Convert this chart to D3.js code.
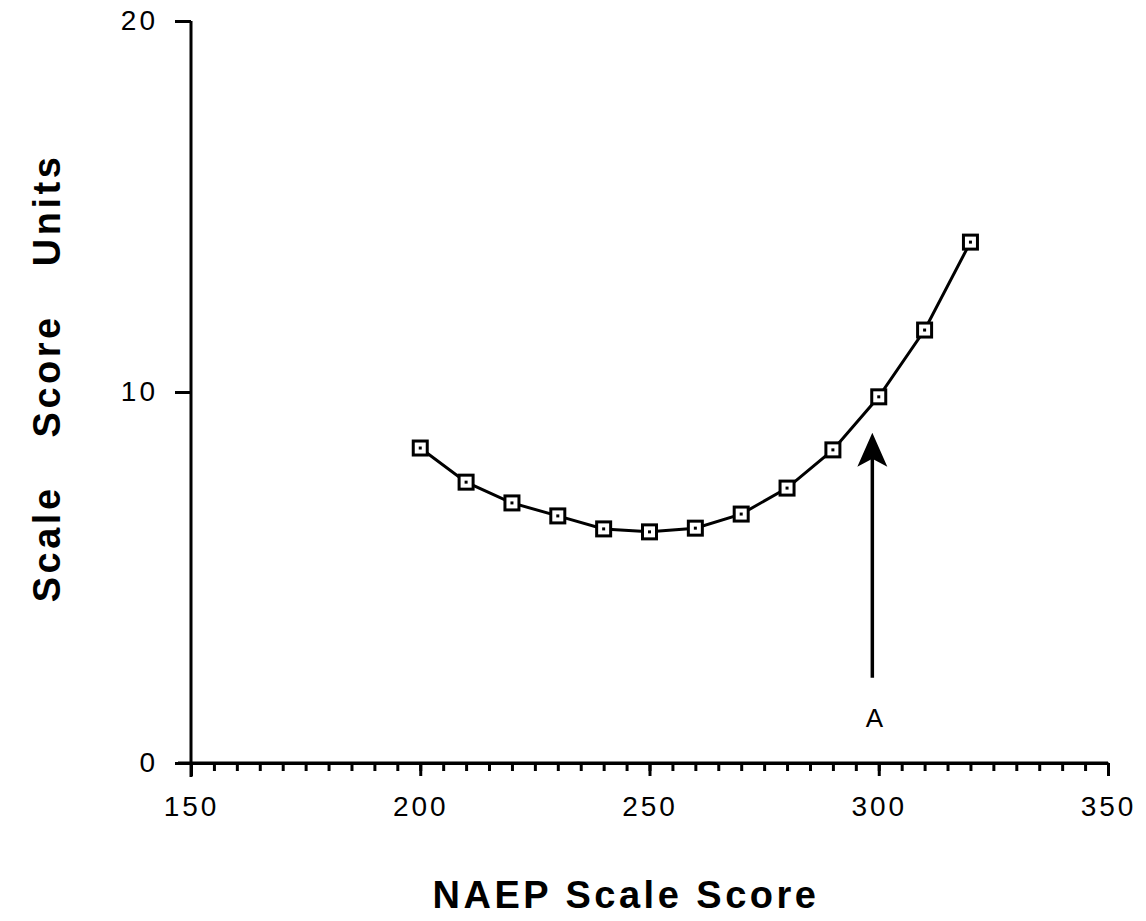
<!DOCTYPE html>
<html>
<head>
<meta charset="utf-8">
<script src="https://cdn.jsdelivr.net/npm/d3@7"></script>
<style>
  body { margin: 0; background: #fff; }
  text { font-family: "Liberation Sans", Arial, sans-serif; fill: #000; }
  .eje path, .eje line { stroke: #000; stroke-width: 3; }
  .eje text { font-size: 28px; letter-spacing: 3px; }
  .titulo { font-size: 38px; font-weight: bold; letter-spacing: 3.5px; }
</style>
</head>
<body>
<script>
var anchoSvg = 1146,
    altoSvg = 921;

// datos
var puntuaciones = [200, 210, 220, 230, 240, 250, 260, 270, 280, 290, 300, 310, 320];
var unidades = [8.49, 7.57, 7.01, 6.66, 6.31, 6.23, 6.33, 6.71, 7.41, 8.44, 9.87, 11.67, 14.04];
var ticksX = [150, 200, 250, 300, 350];
var ticksXMenores = d3.range(150, 351, 5);
var ticksY = [0, 10, 20];
var flecha = {x: 298.6, desde: 2.3, hasta: 8.9, etiqueta: "A", yEtiqueta: 1.15};

var escalaX = d3.scaleLinear()
    .domain([150, 350])
    .range([191, 1108]);

var escalaY = d3.scaleLinear()
    .domain([0, 20])
    .range([763, 21]);

var svg = d3.select('body')
    .append('svg')
    .attr('width', anchoSvg)
    .attr('height', altoSvg);

// eje X: marcas menores cada 5
svg.append('g')
    .attr('class', 'eje')
    .attr('transform', 'translate(0,' + escalaY(0) + ')')
    .call(d3.axisBottom(escalaX).tickValues(ticksXMenores).tickSize(8).tickSizeOuter(0).tickFormat(''));

// eje X: marcas mayores con etiquetas
var ejeX = svg.append('g')
    .attr('class', 'eje')
    .attr('transform', 'translate(0,' + escalaY(0) + ')')
    .call(d3.axisBottom(escalaX).tickValues(ticksX).tickSize(13).tickSizeOuter(0).tickPadding(20).tickFormat(d3.format('d')));
ejeX.select('.domain').attr('d', 'M178,0H' + escalaX(350));

// eje Y
var ejeY = svg.append('g')
    .attr('class', 'eje')
    .attr('transform', 'translate(' + escalaX(150) + ',0)')
    .call(d3.axisLeft(escalaY).tickValues(ticksY).tickSize(16).tickSizeOuter(0).tickPadding(17));
ejeY.select('.domain').attr('d', 'M0,' + escalaY(20) + 'V' + (escalaY(0) + 14));

// linea
var linea = d3.line()
    .x((d, i) => escalaX(puntuaciones[i]))
    .y(d => escalaY(d));

svg.append('path')
    .datum(unidades)
    .attr('d', linea)
    .attr('fill', 'none')
    .attr('stroke', '#000')
    .attr('stroke-width', 3);

// marcadores cuadrados
var marcas = svg.append('g')
    .selectAll('g')
    .data(unidades)
    .enter()
    .append('g')
    .attr('transform', (d, i) => 'translate(' + escalaX(puntuaciones[i]) + ',' + escalaY(d) + ')');

marcas.append('rect')
    .attr('x', -7).attr('y', -7)
    .attr('width', 14).attr('height', 14)
    .attr('fill', '#fff')
    .attr('stroke', '#000')
    .attr('stroke-width', 3);

marcas.append('rect')
    .attr('x', -1.5).attr('y', -1.5)
    .attr('width', 3).attr('height', 3)
    .attr('fill', '#000');

// flecha A
var fx = escalaX(flecha.x);
svg.append('line')
    .attr('x1', fx).attr('x2', fx)
    .attr('y1', escalaY(flecha.desde)).attr('y2', escalaY(flecha.hasta) + 20)
    .attr('stroke', '#000')
    .attr('stroke-width', 3.5);

svg.append('path')
    .attr('d', 'M' + fx + ',' + escalaY(flecha.hasta) +
        'L' + (fx + 15) + ',' + (escalaY(flecha.hasta) + 34) +
        'L' + fx + ',' + (escalaY(flecha.hasta) + 26) +
        'L' + (fx - 15) + ',' + (escalaY(flecha.hasta) + 34) + 'Z')
    .attr('fill', '#000');

svg.append('text')
    .attr('x', fx + 2)
    .attr('y', escalaY(flecha.yEtiqueta))
    .attr('text-anchor', 'middle')
    .attr('dominant-baseline', 'middle')
    .style('font-size', '26px')
    .text(flecha.etiqueta);

// titulos
svg.append('text')
    .attr('class', 'titulo')
    .attr('x', 626)
    .attr('y', 908)
    .attr('text-anchor', 'middle')
    .text('NAEP Scale Score');

svg.append('text')
    .attr('class', 'titulo')
    .attr('transform', 'translate(60,378) rotate(-90)')
    .attr('text-anchor', 'middle')
    .style('word-spacing', '34px')
    .text('Scale Score Units');
</script>
</body>
</html>
